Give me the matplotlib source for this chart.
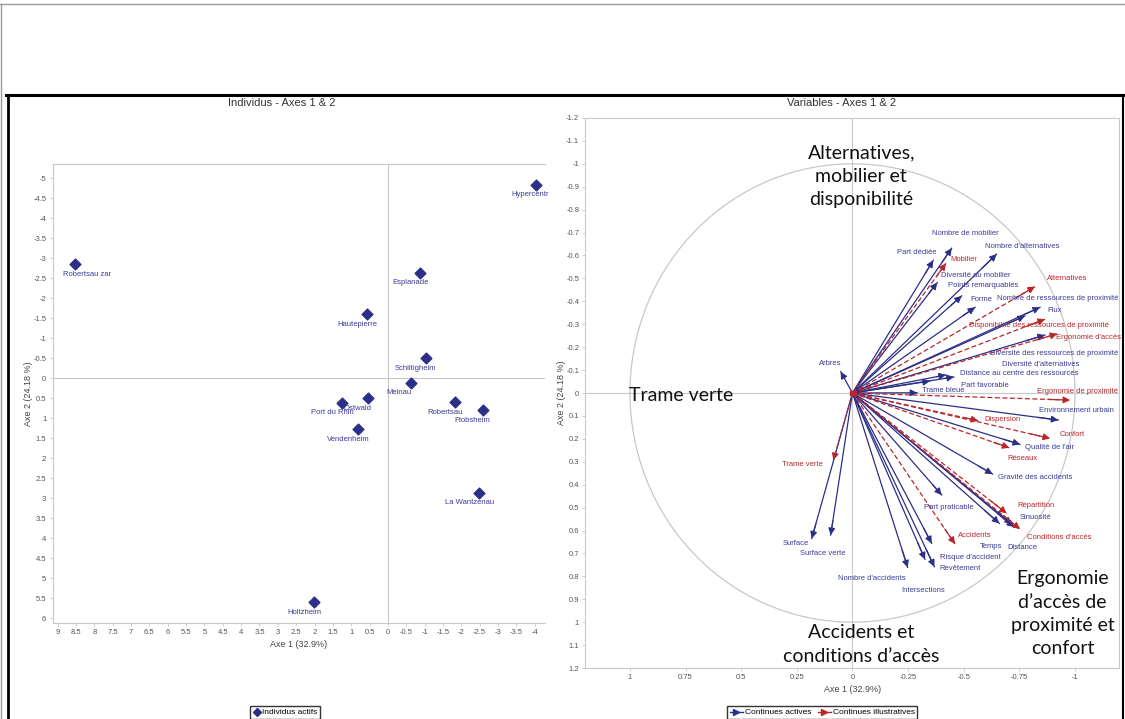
import numpy as np
import matplotlib.pyplot as plt
from matplotlib.lines import Line2D

plt.rcParams['font.family'] = ['Liberation Sans', 'DejaVu Sans']

# --- Individus (left panel) ---
ind_names = ['Hypercentr', 'Robertsau zar', 'Esplanade', 'Hautepierre', 'Schiltigheim',
             'Meinau', 'Ostwald', 'Port du Rhin', 'Robertsau', 'Plobsheim',
             'Vendenheim', 'La Wantzenau', 'Holtzheim']
ind_x = [-4.03, 8.53, -0.88, 0.57, -1.03, -0.64, 0.54, 1.25, -1.84, -2.60, 0.82, -2.49, 2.01]
ind_y = [-4.83, -2.85, -2.63, -1.59, -0.49, 0.12, 0.50, 0.62, 0.61, 0.80, 1.28, 2.87, 5.61]

# --- Variables (right panel) ---
act_names = ['Nombre de mobilier', 'Part dédiée', 'Diversité au mobilier', "Nombre d'alternatives",
             'Points remarquables', 'Forme', 'Nombre de ressources de proximité', 'Flux',
             'Diversité des ressources de proximité', "Diversité d'alternatives",
             'Distance au centre des ressources', 'Part favorable', 'Trame bleue',
             'Environnement urbain', "Qualité de l'air", 'Gravité des accidents',
             'Part praticable', 'Sinuosité', 'Temps', 'Distance', "Risque d'accident",
             'Revêtement', 'Intersections', "Nombre d'accidents", 'Arbres', 'Surface',
             'Surface verte']
act_x = [-0.446, -0.363, -0.381, -0.648, -0.491, -0.551, -0.775, -0.843, -0.865, -0.420,
         -0.456, -0.348, -0.291, -0.925, -0.753, -0.630, -0.401, -0.716, -0.660, -0.726,
         -0.356, -0.368, -0.326, -0.248, 0.053, 0.183, 0.098]
act_y = [-0.632, -0.579, -0.482, -0.606, -0.424, -0.374, -0.336, -0.374, -0.253, -0.079,
         -0.070, -0.052, -0.001, 0.118, 0.224, 0.354, 0.445, 0.572, 0.569, 0.585,
         0.656, 0.758, 0.726, 0.761, -0.093, 0.635, 0.620]

sup_names = ['Mobilier', 'Alternatives', 'Disponibilité des ressources de proximité',
             "Ergonomie d'accès", 'Ergonomie de proximité', 'Dispersion', 'Confort',
             'Réseaux', 'Répartition', "Conditions d'accès", 'Accidents', 'Trame verte']
sup_x = [-0.420, -0.820, -0.865, -0.920, -0.978, -0.565, -0.888, -0.705, -0.693, -0.753,
         -0.461, 0.086]
sup_y = [-0.566, -0.464, -0.322, -0.258, 0.031, 0.121, 0.198, 0.239, 0.525, 0.594,
         0.659, 0.293]

# label offsets in pixels (layout only)
ind_off = [(-6, -10), (12, -10), (-10, -10), (-10, -10), (-10, -10), (-12, -10),
           (-10, -10), (-10, -10), (-10, -10), (-11, -10), (-10, -10), (-10, -10),
           (-10, -10)]
act_off = [(14, 15), (-16, 8), (39, 7), (26, 8), (21, 10), (6, 8), (33, 18), (15, -3),
           (9, -18), (95, 10), (65, 3), (55, -4), (26, 2), (18, 10), (29, -3), (43, -3),
           (7, -13), (24, 7), (-8, -23), (8, -20), (39, -14), (26, -2), (-2, -31),
           (-36, -11), (-10, 8), (-16, -5), (-8, -18)]
sup_off = [(18, 4), (32, 8), (-6, -6), (31, -4), (7, 9), (24, 1), (22, 4), (13, -11),
           (29, 8), (39, -8), (20, 9), (-31, -4)]

navy = '#2b2f87'
navy_txt = '#3a3a96'
red = '#b8262b'
grey = '#c8c8c8'
tick_col = '#555555'


def fmt(v, pos=None):
    return '{:g}'.format(round(v, 2))


fig = plt.figure(figsize=(11.25, 7.19), dpi=100)

# ---------- left panel ----------
ax1 = fig.add_axes([0.0467, 0.1335, 0.4374, 0.6384])
ax1.scatter(ind_x, ind_y, marker='D', s=30, color=navy, zorder=3)
for n, x, y, off in zip(ind_names, ind_x, ind_y, ind_off):
    ax1.annotate(n, (x, y), xytext=off, textcoords='offset pixels',
                 ha='center', va='center', fontsize=5.5, color=navy_txt)
ax1.axhline(0, color=grey, lw=0.8, zorder=1)
ax1.axvline(0, color=grey, lw=0.8, zorder=1)
ax1.set_xlim(9.14, -4.27)
ax1.set_ylim(6.125, -5.35)
ax1.set_xticks(np.arange(9, -4.01, -0.5))
ax1.set_yticks(np.arange(-5, 6.01, 0.5))
ax1.xaxis.set_major_formatter(fmt)
ax1.yaxis.set_major_formatter(fmt)
ax1.set_xlabel('Axe 1 (32.9%)', fontsize=6.5, color='#444444', labelpad=3)
ax1.set_ylabel('Axe 2 (24.18 %)', fontsize=6.5, color='#444444', labelpad=0)
ax1.spines['right'].set_visible(False)
for s in ['left', 'bottom', 'top']:
    ax1.spines[s].set_color(grey)
    ax1.spines[s].set_linewidth(0.8)

# ---------- right panel ----------
ax2 = fig.add_axes([0.5204, 0.0709, 0.4747, 0.765])
t = np.linspace(0, 2 * np.pi, 400)
ax2.plot(np.cos(t), np.sin(t), color=grey, lw=0.9, zorder=1)
ax2.axhline(0, color=grey, lw=0.8, zorder=1)
ax2.axvline(0, color=grey, lw=0.8, zorder=1)

for n, x, y, off in zip(act_names, act_x, act_y, act_off):
    ax2.plot([0, x], [0, y], color=navy, lw=0.9, zorder=2)
    ax2.annotate('', xy=(x, y), xytext=(x * 0.9, y * 0.9),
                 arrowprops=dict(arrowstyle='-|>', color=navy, lw=0.9,
                                 mutation_scale=10, shrinkA=0, shrinkB=0), zorder=3)
    ax2.annotate(n, (x, y), xytext=off, textcoords='offset pixels', ha='center',
                 va='center', fontsize=5.5, color=navy_txt, zorder=4)

for n, x, y, off in zip(sup_names, sup_x, sup_y, sup_off):
    ax2.plot([0, x], [0, y], color=red, lw=0.9, ls=(0, (4, 2)), zorder=2)
    ax2.annotate('', xy=(x, y), xytext=(x * 0.9, y * 0.9),
                 arrowprops=dict(arrowstyle='-|>', color=red, lw=0.9,
                                 mutation_scale=10, shrinkA=0, shrinkB=0), zorder=3)
    ax2.annotate(n, (x, y), xytext=off, textcoords='offset pixels', ha='center',
                 va='center', fontsize=5.5, color=red, zorder=4)
ax2.plot([0], [0], 's', color=red, ms=2.5, zorder=5)

ax2.set_xlim(1.2, -1.2)
ax2.set_ylim(1.2, -1.2)
ax2.set_xticks([1, 0.75, 0.5, 0.25, 0, -0.25, -0.5, -0.75, -1])
ax2.set_yticks(np.round(np.arange(-1.2, 1.21, 0.1), 2))
ax2.xaxis.set_major_formatter(fmt)
ax2.yaxis.set_major_formatter(fmt)
ax2.set_xlabel('Axe 1 (32.9%)', fontsize=6.5, color='#444444', labelpad=3)
ax2.set_ylabel('Axe 2 (24.18 %)', fontsize=6.5, color='#444444', labelpad=0)
for s in ax2.spines.values():
    s.set_color(grey)
    s.set_linewidth(0.8)

for ax in (ax1, ax2):
    ax.tick_params(labelsize=5.5, colors=tick_col, length=2.5, width=0.6, pad=2)
    ax.tick_params(color=grey)

# panel titles
fig.text(0.2507, 0.8567, 'Individus - Axes 1 & 2', fontsize=8, color='#333333',
         ha='center', va='center')
fig.text(0.7484, 0.8567, 'Variables - Axes 1 & 2', fontsize=8, color='#333333',
         ha='center', va='center')

# big annotations
big = dict(fontsize=14, color='#111111', ha='center', va='center',
           family=['Lato', 'DejaVu Sans'], linespacing=1.45)
ax2.text(-0.04, -0.945, 'Alternatives,\nmobilier et\ndisponibilité', **big)
ax2.text(0.77, 0.01, 'Trame verte', **big)
ax2.text(-0.04, 1.098, 'Accidents et\nconditions d\u2019accès', **big)
ax2.text(-0.945, 0.963, 'Ergonomie\nd\u2019accès de\nproximité et\nconfort', **big)

# legends
h1 = [Line2D([], [], marker='D', ls='none', color=navy, ms=4)]
fig.legend(h1, ['Individus actifs'], loc='center', bbox_to_anchor=(0.2533, 0.009),
           fontsize=6, frameon=True, fancybox=False, edgecolor='black',
           handletextpad=0.2, borderpad=0.3, handlelength=1)
h2 = [Line2D([], [], marker='>', color=navy, ms=4, lw=1),
      Line2D([], [], marker='>', color=red, ms=4, lw=1)]
fig.legend(h2, ['Continues actives', 'Continues illustratives'], loc='center',
           bbox_to_anchor=(0.7307, 0.009), ncol=2, fontsize=6, frameon=True,
           fancybox=False, edgecolor='black', handletextpad=0.2, borderpad=0.3,
           columnspacing=0.8, handlelength=1.6)

# frame lines
fig.add_artist(Line2D([0, 1], [0.9944, 0.9944], color='#999999', lw=1,
                      transform=fig.transFigure))
fig.add_artist(Line2D([0.0005, 0.0005], [0, 0.9944], color='#999999', lw=1,
                      transform=fig.transFigure))
fig.add_artist(Line2D([0.005, 1], [0.8679, 0.8679], color='black', lw=2.2,
                      transform=fig.transFigure))
fig.add_artist(Line2D([0.0071, 0.0071], [0, 0.8679], color='black', lw=2,
                      transform=fig.transFigure))
fig.add_artist(Line2D([0.998, 0.998], [0, 0.8679], color='black', lw=1.5,
                      transform=fig.transFigure))

fig.savefig('out.png', dpi=100)
